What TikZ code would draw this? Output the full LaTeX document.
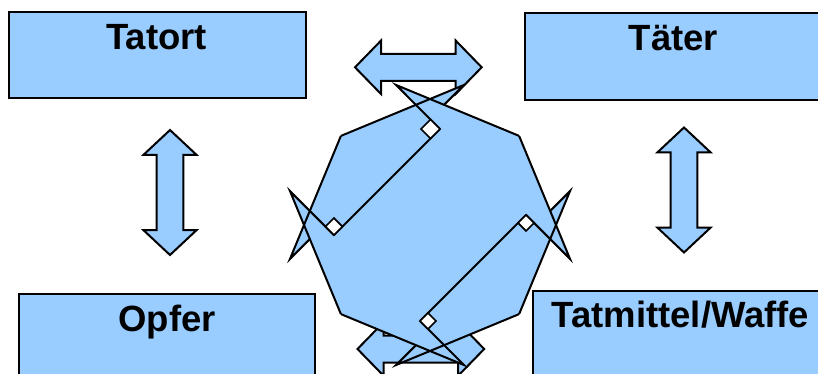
\documentclass[tikz,border=0pt]{standalone}
\usepackage{fontspec}
\setmainfont{Liberation Sans}
\definecolor{fillblue}{HTML}{99CCFF}
\begin{document}
\begin{tikzpicture}[x=1pt,y=-1pt]
\tikzset{
  shapeline/.style={draw=black, line width=2pt, fill=fillblue, line join=miter},
  edgeline/.style={draw=black, line width=2pt, line join=miter},
  box/.style={draw=black, line width=2pt, fill=fillblue, rectangle, inner sep=0pt},
  boxtext/.style={font=\fontsize{36.5}{40}\selectfont\bfseries, anchor=base, inner sep=0pt},
  notch/.style={draw=black, fill=white, line width=1.7pt, line join=miter},
  hdbl/.pic={\path[shapeline] (-63.35,0) -- (-37.35,-26.7) -- (-37.35,-13.5) -- (37.35,-13.5)
      -- (37.35,-26.7) -- (63.35,0) -- (37.35,26.7) -- (37.35,13.5) -- (-37.35,13.5)
      -- (-37.35,26.7) -- cycle;},
  vdbl/.pic={\path[shapeline] (0,-62.5) -- (26.7,-37.5) -- (13.3,-37.5) -- (13.3,37.5)
      -- (26.7,37.5) -- (0,62.5) -- (-26.7,37.5) -- (-13.3,37.5) -- (-13.3,-37.5)
      -- (-26.7,-37.5) -- cycle;}
}
\useasboundingbox (0,0) rectangle (818,374);
\clip (0,0) rectangle (818,374);

% four boxes
\node[box, minimum width=296.7pt, minimum height=85.4pt] (tatort) at (157.35,55) {};
\node[boxtext] (tatorttxt) at (156.7,49.3) {Tatort};
\node[box, minimum width=296.7pt, minimum height=87pt] (taeter) at (673.35,56.5) {};
\node[boxtext] (taetertxt) at (673.35,50.5) {Täter};
\node[box, minimum width=296pt, minimum height=106pt] (opfer) at (167,347) {};
\node[boxtext] (opfertxt) at (167,331.5) {Opfer};
\node[box, minimum width=296.7pt, minimum height=109pt] (waffe) at (681.65,345.5) {};
\node[boxtext] (waffetxt) at (680.5,327) {Tatmittel/Waffe};

% double arrows between the boxes
\pic (toparrow) at (418.35,67.3) {hdbl};
\pic (botarrow) at (420.85,349) {hdbl};
\pic (leftarrow) at (170,192.5) {vdbl};
\pic (rightarrow) at (684,190) {vdbl};

% octagon corners
\coordinate (A) at (430,99);
\coordinate (B) at (519.1,135.9);
\coordinate (Cr) at (556,225);
\coordinate (D) at (519.1,314.1);
\coordinate (E) at (430,351);
\coordinate (F) at (340.9,314.1);
\coordinate (G) at (304,225);
\coordinate (H) at (340.9,135.9);
% arrow tips (edges continued past the corners)
\coordinate (T1) at (463.9,85.0);
\coordinate (K1) at (396.1,85.0);
\coordinate (K2) at (570.0,258.9);
\coordinate (S2) at (570.0,191.1);
\coordinate (K3) at (463.9,365.0);
\coordinate (S3) at (396.1,365.0);
\coordinate (K4) at (290.0,191.1);
\coordinate (S4) at (290.0,258.9);
% inner ends of the thin tips
\coordinate (Q1) at (444.0,104.9);
\coordinate (Q2) at (550.2,210.9);
\coordinate (Q3) at (416.0,345.1);
\coordinate (Q4) at (309.8,239.1);
% notch corners
\coordinate (X1) at (440,129);
\coordinate (X2) at (526.05,214.95);
\coordinate (X3) at (420,321);
\coordinate (X4) at (333.95,235.05);

% fill of the cycle figure
\fill[fillblue] (A) -- (B) -- (Cr) -- (D) -- (E) -- (F) -- (G) -- (H) -- cycle;
\fill[fillblue] (K1) -- (A) -- (X1) -- cycle;
\fill[fillblue] (T1) -- (A) -- (Q1) -- cycle;
\fill[fillblue] (K2) -- (Cr) -- (X2) -- cycle;
\fill[fillblue] (S2) -- (Cr) -- (Q2) -- cycle;
\fill[fillblue] (K3) -- (E) -- (X3) -- cycle;
\fill[fillblue] (S3) -- (E) -- (Q3) -- cycle;
\fill[fillblue] (K4) -- (G) -- (X4) -- cycle;
\fill[fillblue] (S4) -- (G) -- (Q4) -- cycle;

% outlines: edges running into the tips
\draw[edgeline] (H) -- (A) -- (T1) -- (Q1);
\draw[edgeline] (B) -- (A) -- (K1) -- (X1);
\draw[edgeline] (D) -- (Cr) -- (S2) -- (Q2);
\draw[edgeline] (B) -- (Cr) -- (K2) -- (X2);
\draw[edgeline] (D) -- (E) -- (S3) -- (Q3);
\draw[edgeline] (F) -- (E) -- (K3) -- (X3);
\draw[edgeline] (H) -- (G) -- (S4) -- (Q4);
\draw[edgeline] (F) -- (G) -- (K4) -- (X4);
% inner diagonals
\draw[edgeline] (X1) -- (X4);
\draw[edgeline] (X2) -- (X3);

% small white notches
\path[notch] (X1) -- ++(-9.5,-9.5) -- ++(-9.5,9.5) -- ++(9.5,9.5) -- cycle;
\path[notch] (X2) -- ++(8,8) -- ++(-8,8) -- ++(-8,-8) -- cycle;
\path[notch] (X3) -- ++(8,8) -- ++(8,-8) -- ++(-8,-8) -- cycle;
\path[notch] (X4) -- ++(-8.5,-8.5) -- ++(8.5,-8.5) -- ++(8.5,8.5) -- cycle;
\end{tikzpicture}
\end{document}
